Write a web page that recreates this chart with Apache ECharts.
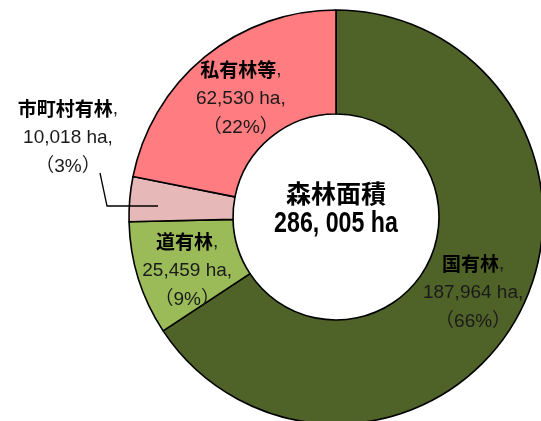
<!DOCTYPE html>
<html>
<head>
    <meta charset="utf-8"/>
    <title>森林面積</title>
    <script src="https://cdn.jsdelivr.net/npm/echarts@6/dist/echarts.min.js"></script>
    <style>
        html, body { margin: 0; padding: 0; background: #fff; }
        #main { width: 541px; height: 421px; }
    </style>
</head>
<body>
<div id="main"></div>
<script>
    // データ（面積 ha）
    var categories = ['国有林', '道有林', '市町村有林', '私有林等'];
    var areas = [187964, 25459, 10018, 62530];
    var centerTitle = '森林面積';
    var totalArea = 286005;   // 図中の合計表示

    var colors = ['#4F6228', '#9BBB59', '#E6B9B8', '#FF7C80'];
    var jpFont = '"Noto Sans CJK JP", sans-serif';
    var numFont = '"Liberation Sans", "Noto Sans CJK JP", sans-serif';

    function fmt(n) { return n.toLocaleString('en-US'); }

    // ラベルの微調整
    var labelShift = [[-2, 1], [2, 7], [0, 0], [5, 4]];

    var myChart = echarts.init(document.getElementById('main'));
    var option = {
        animation: false,
        color: colors,
        graphic: [
            {
                type: 'text', x: 336, y: 193,
                style: {
                    text: centerTitle, align: 'center', verticalAlign: 'middle',
                    font: 'bold 25px ' + jpFont, fill: '#000'
                }
            },
            {
                type: 'text', x: 336, y: 224, scaleX: 0.8,
                style: {
                    text: fmt(totalArea).replace(/,/g, ', ') + ' ha', align: 'center', verticalAlign: 'middle',
                    font: 'bold 29px "Liberation Sans", sans-serif', fill: '#000'
                }
            },
            {
                // 市町村有林の引き出し線
                type: 'polyline', z: 100,
                shape: { points: [[158, 206], [107, 206], [100, 173]] },
                style: { stroke: '#000', lineWidth: 1.3, fill: null }
            }
        ],
        series: [{
            type: 'pie',
            center: [336, 217],
            radius: [103, 207],
            startAngle: 90,
            clockwise: true,
            avoidLabelOverlap: false,
            percentPrecision: 0,
            itemStyle: { borderColor: '#000', borderWidth: 1.6 },
            label: {
                show: true,
                position: 'inside',
                formatter: function (p) {
                    return '{n|' + p.name + '}{v|,}\n{v|' + fmt(p.value) + ' ha,}\n{v|（' + p.percent + '%）}';
                },
                rich: {
                    n: { fontFamily: jpFont, fontSize: 19, fontWeight: 'bold', color: '#000', lineHeight: 29 },
                    v: { fontFamily: numFont, fontSize: 19, color: '#1a1a1a', lineHeight: 29 }
                }
            },
            labelLine: { show: false },
            labelLayout: function (p) {
                if (p.dataIndex === 2) {
                    return { x: 68, y: 138, align: 'center', verticalAlign: 'middle' };
                }
                var s = labelShift[p.dataIndex];
                return { dx: s[0], dy: s[1] };
            },
            emphasis: { disabled: true },
            data: categories.map(function (c, i) {
                var d = { name: c, value: areas[i] };
                if (i === 2) {
                    d.label = { position: 'outside' };
                }
                return d;
            })
        }]
    };
    myChart.setOption(option);

    window.onresize = function () {
        myChart.resize();
    };
</script>
</body>
</html>
